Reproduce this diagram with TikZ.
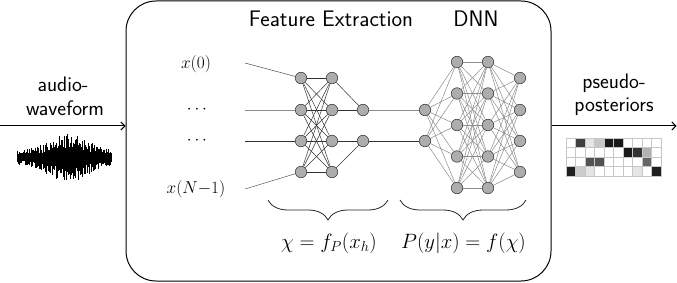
\documentclass[tikz,border=0pt]{standalone}
\usetikzlibrary{arrows.meta,decorations.pathreplacing,backgrounds}
\begin{document}
\begin{tikzpicture}[x=1pt,y=-1pt,
  neuron/.style={circle,draw=black!75,fill=black!32,line width=0.6pt,minimum size=11.5pt,inner sep=0pt},
  feedge/.style={draw=black!80,line width=0.5pt},
  dnnedge/.style={draw=black!45,line width=0.5pt},
  lbl/.style={font=\fontsize{21}{25}\selectfont\sffamily,inner sep=0pt},
  tlbl/.style={font=\fontsize{22.5}{26}\selectfont\sffamily,inner sep=0pt},
  mlbl/.style={font=\fontsize{18}{21}\selectfont,inner sep=0pt},
  blbl/.style={font=\fontsize{20.8}{24}\selectfont,inner sep=0pt},
  flow/.style={line width=1pt,-{Straight Barb[length=4pt,width=8pt]}},
  cell/.style={draw=black!22,line width=0.5pt},
  bracestyle/.style={decorate,decoration={brace,amplitude=20pt},line width=0.8pt,draw=black!85}]
\useasboundingbox (0,0) rectangle (677,283);
% main box
\node[draw,line width=1pt,rounded corners=30pt,minimum width=425pt,minimum height=280pt,inner sep=0pt] (box) at (338.5,141) {};
% titles
\node[tlbl,anchor=base] (tfe) at (331,27) {Feature Extraction};
\node[tlbl,anchor=base] (tdnn) at (476,27) {DNN};
% left / right labels
\node[lbl,anchor=base] (aud) at (63,92) {audio-};
\node[lbl,anchor=base] (wav) at (65,116) {waveform};
\node[lbl,anchor=base] (pse) at (614,89) {pseudo-};
\node[lbl,anchor=base] (pos) at (614,112) {posteriors};
\coordinate (inL) at (0,126);
\coordinate (outR) at (676.5,126);
\draw[flow] (inL) -- (box.west |- inL);
\draw[flow] (box.east |- outR) -- (outR);
% input labels
\node[mlbl] (x0) at (196,64) {$x(0)$};
\node[mlbl] (d1) at (197,110) {$\cdots$};
\node[mlbl] (d2) at (197,141) {$\cdots$};
\node[mlbl] (xn) at (196,189) {$x(N{-}1)$};
\coordinate (i1) at (245,63);
\coordinate (i2) at (245,110);
\coordinate (i3) at (245,141);
\coordinate (i4) at (245,189);
% feature extraction nodes
\foreach \y [count=\i] in {78,110,141,172} {
  \node[neuron] (f1-\i) at (301,\y) {};
  \node[neuron] (f2-\i) at (332,\y) {};
}
\node[neuron] (f3-1) at (363,110) {};
\node[neuron] (f3-2) at (363,141) {};
% DNN nodes
\node[neuron] (n1-1) at (425,110) {};
\node[neuron] (n1-2) at (425,141) {};
\foreach \y [count=\i] in {62,93.5,125,156.5,188} {
  \node[neuron] (n2-\i) at (457,\y) {};
  \node[neuron] (n3-\i) at (488,\y) {};
}
\foreach \y [count=\i] in {78,110,141,172} {
  \node[neuron] (n4-\i) at (520,\y) {};
}
\begin{scope}[on background layer]
  \draw[draw=black!70,line width=0.5pt] (i1) -- (f1-1);
  \draw[draw=black!45,line width=0.6pt] (i2) -- (f1-2);
  \draw[draw=black!80,line width=0.6pt] (i3) -- (f1-3);
  \draw[draw=black!65,line width=0.5pt] (i4) -- (f1-4);
  \foreach \i in {1,...,4} \foreach \j in {1,...,4} \draw[feedge] (f1-\i) -- (f2-\j);
  \draw[feedge] (f2-1) -- (f3-1);
  \draw[feedge] (f2-2) -- (f3-1);
  \draw[feedge] (f2-3) -- (f3-2);
  \draw[feedge] (f2-4) -- (f3-2);
  \draw[draw=black!45,line width=0.6pt] (f3-1) -- (n1-1);
  \draw[draw=black!80,line width=0.6pt] (f3-2) -- (n1-2);
  \foreach \i in {1,2} \foreach \j in {1,...,5} \draw[dnnedge] (n1-\i) -- (n2-\j);
  \foreach \i in {1,...,5} \foreach \j in {1,...,5} \draw[dnnedge] (n2-\i) -- (n3-\j);
  \foreach \i in {1,...,5} \foreach \j in {1,...,4} \draw[dnnedge] (n3-\i) -- (n4-\j);
\end{scope}
% braces
\coordinate (b1r) at (388,200);
\coordinate (b1l) at (268,200);
\coordinate (b2r) at (526,200);
\coordinate (b2l) at (400,200);
\draw[bracestyle] (b1r) -- (b1l);
\draw[bracestyle] (b2r) -- (b2l);
\node[blbl,anchor=base] (eq1) at (329,248) {$\chi = f_P(x_h)$};
\node[blbl,anchor=base] (eq2) at (463.5,248) {$P(y|x) = f(\chi)$};
% waveform
\pgfmathsetseed{7}
\foreach \x in {17,17.7,...,112} {
  \pgfmathsetmacro\env{7+18*exp(-((\x-68)/26)^2)}
  \pgfmathsetmacro\a{\env*(0.35+0.65*rnd)}
  \pgfmathsetmacro\b{\env*(0.35+0.65*rnd)}
  \draw[line width=0.8pt] (\x,157.5-\a) -- (\x,157.5+\b);
}
% posterior grid
\foreach \row/\vals in {0/{0,75,10,22,90,90,0,0,0,0},1/{0,0,0,0,0,0,90,80,30,0},2/{0,0,68,68,0,0,0,0,60,0},3/{88,20,10,0,0,0,0,10,0,88}} {
  \foreach \v [count=\c from 0] in \vals {
    \path[cell,fill=black!\v] (566+\c*9.5,138+\row*9.5) rectangle (575.5+\c*9.5,147.5+\row*9.5);
  }
}
\end{tikzpicture}
\end{document}
